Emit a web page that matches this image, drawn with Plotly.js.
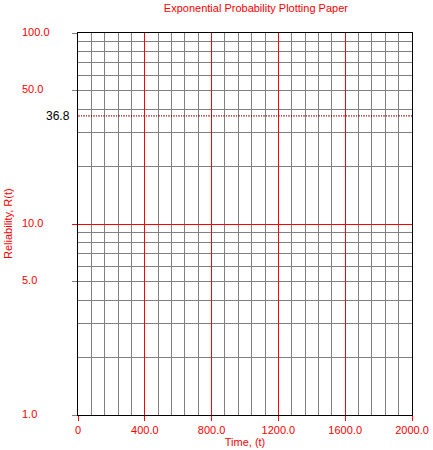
<!DOCTYPE html>
<html>
<head>
<meta charset="utf-8">
<script src="https://cdn.plot.ly/plotly-3.0.1.min.js"></script>
<style>
  html, body { margin: 0; padding: 0; background: #fff; }
  #graph { width: 433px; height: 450px; }
</style>
</head>
<body>
<div id="graph"></div>
<script>
// time axis
const timeLimits = [0, 2000];
const timeTickVals = [0, 400, 800, 1200, 1600, 2000];
const timeTickText = ["0", "400.0", "800.0", "1200.0", "1600.0", "2000.0"];

// reliability axis (log)
const relGrid = [2, 3, 4, 5, 6, 7, 8, 9, 20, 30, 40, 50, 60, 70, 80, 90];
const relMajor = [10];
const relLabelVals = [100, 50, 10, 5, 1];
const relLabelText = ["100.0", "50.0", "10.0", "5.0", "1.0"];

// 1/e reference level
const refLevel = 36.8;
const refLabel = "36.8";

const RED = "#ff0000";
const GRAY = "#808080";
const FONT = "Liberation Sans, Arial, sans-serif";

document.addEventListener("DOMContentLoaded", function () {
    const refY = timeLimits.map(() => refLevel);

    const traces = [
        {
            x: timeLimits,
            y: refY,
            mode: "lines",
            line: { color: "#cc0000", width: 1, dash: "2px,3px" },
            hoverinfo: "skip",
            xaxis: "x",
            yaxis: "y",
        },
        {
            x: timeLimits,
            y: refY,
            mode: "lines",
            line: { color: "#000000", width: 1, dash: "0px,3px,1px,1px" },
            hoverinfo: "skip",
            xaxis: "x",
            yaxis: "y",
        },
        { x: [], y: [], xaxis: "x2", yaxis: "y2", hoverinfo: "skip" },
        { x: [], y: [], xaxis: "x", yaxis: "y3", hoverinfo: "skip" },
    ];

    const annotations = relLabelVals.map((v, i) => ({
        xref: "paper",
        yref: "y",
        x: 0,
        y: Math.log10(v),
        xanchor: "left",
        yanchor: "middle",
        xshift: -58,
        yshift: 1.5,
        showarrow: false,
        text: relLabelText[i],
        font: { family: FONT, size: 11, color: RED },
    }));

    annotations.push({
        xref: "paper",
        yref: "y",
        x: 0,
        y: Math.log10(refLevel),
        xanchor: "right",
        yanchor: "middle",
        xshift: -6,
        showarrow: false,
        text: refLabel,
        font: { family: FONT, size: 12, color: "#000000" },
    });

    annotations.push({
        xref: "paper",
        yref: "paper",
        x: 0,
        y: 0.5,
        xanchor: "center",
        yanchor: "middle",
        xshift: -70,
        textangle: -90,
        showarrow: false,
        text: "Reliability, R(t)",
        font: { family: FONT, size: 11, color: RED },
    });

    const layout = {
        width: 433,
        height: 450,
        margin: { l: 78, r: 21, t: 33, b: 35 },
        paper_bgcolor: "#ffffff",
        plot_bgcolor: "#ffffff",
        showlegend: false,
        font: { family: FONT, size: 11, color: RED },
        title: {
            text: "Exponential Probability Plotting Paper",
            font: { family: FONT, size: 11, color: RED },
            xref: "container",
            x: 0.591,
            xanchor: "center",
            yref: "container",
            y: 0.982,
            yanchor: "middle",
        },
        xaxis: {
            range: timeLimits,
            tick0: 0,
            dtick: 80,
            showgrid: true,
            gridcolor: GRAY,
            gridwidth: 1,
            ticks: "",
            showticklabels: false,
            zeroline: false,
            showline: true,
            mirror: true,
            linecolor: "#000000",
            linewidth: 1,
            fixedrange: true,
        },
        xaxis2: {
            overlaying: "x",
            range: timeLimits,
            tickmode: "array",
            tickvals: timeTickVals,
            ticktext: timeTickText,
            showgrid: true,
            gridcolor: RED,
            gridwidth: 1,
            ticks: "outside",
            ticklen: 5,
            tickcolor: RED,
            tickfont: { family: FONT, size: 11, color: RED },
            zeroline: false,
            showline: false,
            title: {
                text: "Time, (t)",
                font: { family: FONT, size: 11, color: RED },
                standoff: 1,
            },
            fixedrange: true,
        },
        yaxis: {
            type: "log",
            range: [0, 2],
            tickmode: "array",
            tickvals: relGrid,
            showgrid: true,
            gridcolor: GRAY,
            gridwidth: 1,
            ticks: "",
            showticklabels: false,
            zeroline: false,
            showline: true,
            mirror: true,
            linecolor: "#000000",
            linewidth: 1,
            fixedrange: true,
        },
        yaxis2: {
            overlaying: "y",
            type: "log",
            range: [0, 2],
            tickmode: "array",
            tickvals: relMajor,
            showgrid: true,
            gridcolor: RED,
            gridwidth: 1,
            ticks: "outside",
            ticklen: 5,
            tickcolor: RED,
            showticklabels: false,
            zeroline: false,
            showline: false,
            fixedrange: true,
        },
        yaxis3: {
            overlaying: "y",
            type: "log",
            range: [0, 2],
            tickmode: "array",
            tickvals: relLabelVals.filter(v => relMajor.indexOf(v) < 0),
            showgrid: false,
            ticks: "outside",
            ticklen: 5,
            tickcolor: GRAY,
            showticklabels: false,
            zeroline: false,
            showline: false,
            fixedrange: true,
        },
        annotations: annotations,
    };

    Plotly.newPlot("graph", traces, layout, { displayModeBar: false, staticPlot: true });
});
</script>
</body>
</html>
